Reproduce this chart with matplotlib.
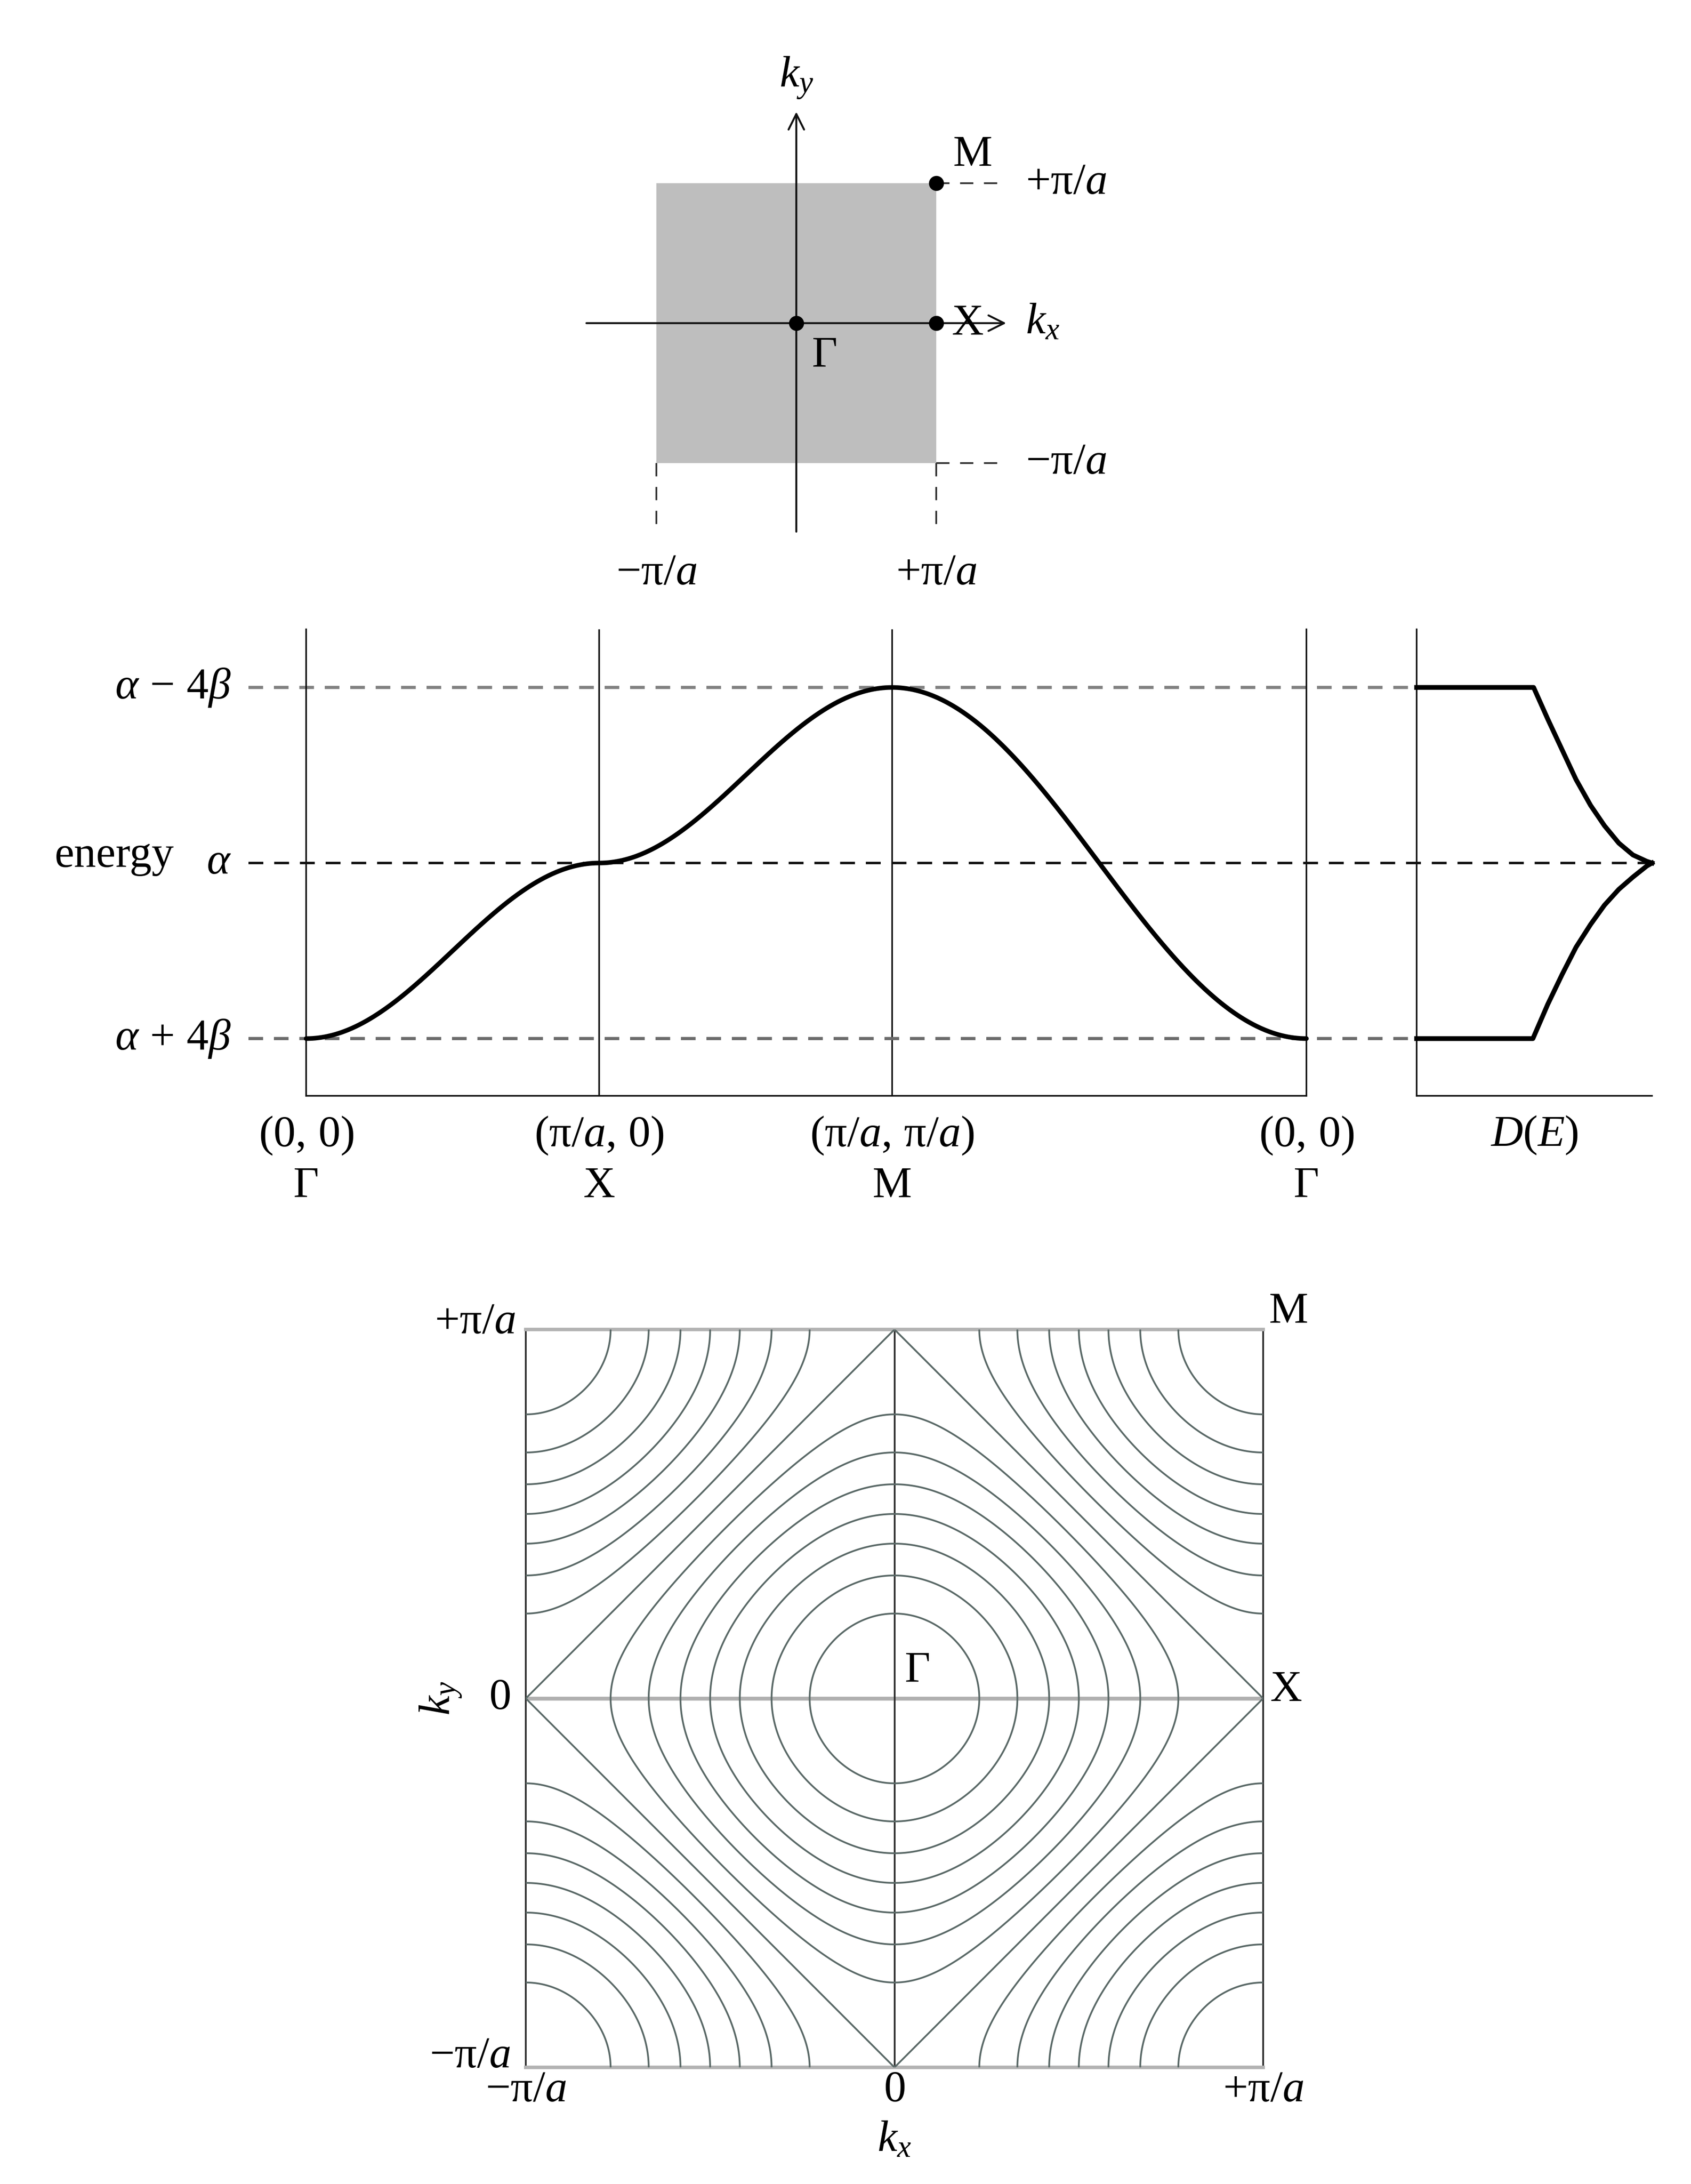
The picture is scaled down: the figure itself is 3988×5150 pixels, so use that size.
import numpy as np
import matplotlib
matplotlib.use("Agg")
import matplotlib.pyplot as plt

# ---------------- data ----------------
# tight-binding parameters (energy axis in units where alpha = 0, beta = -1/2)
alpha = 0.0
beta = -0.5

# high-symmetry path Gamma -> X -> M -> Gamma (k in units of pi/a)
path_names = ["Γ", "X", "M", "Γ"]
path_coord_labels = [r"$(0,\,0)$", r"$(\mathrm{\pi}/a,\,0)$",
                     r"$(\mathrm{\pi}/a,\,\mathrm{\pi}/a)$", r"$(0,\,0)$"]
path_kx = [0.0, 1.0, 1.0, 0.0]
path_ky = [0.0, 0.0, 1.0, 0.0]

# energy reference levels and labels
level_values = [alpha - 4 * beta, alpha, alpha + 4 * beta]
level_labels = [r"$\alpha\,-\,4\beta$", r"$\alpha$", r"$\alpha\,+\,4\beta$"]

# schematic density of states
dos_E_upper = [2.00, 2.00, 1.64, 1.29, 0.952, 0.657, 0.425, 0.227, 0.092, 0.019, 0.0]
dos_D_upper = [0.00, 0.497, 0.557, 0.618, 0.677, 0.739, 0.798, 0.859, 0.919, 0.978, 1.0]
dos_E_lower = [-2.00, -2.00, -1.61, -1.27, -0.96, -0.70, -0.48, -0.30, -0.16, -0.034, 0.0]
dos_D_lower = [0.00, 0.494, 0.557, 0.618, 0.677, 0.739, 0.798, 0.859, 0.919, 0.978, 1.0]

# constant-energy contour levels (cos kx a + cos ky a)
contour_levels = [-1.75, -1.5, -1.25, -1.0, -0.75, -0.5, -0.25, 0.0,
                  0.25, 0.5, 0.75, 1.0, 1.25, 1.5, 1.75]

# Brillouin-zone special points (units of pi/a)
bz_points_x = [0.0, 1.0, 1.0]
bz_points_y = [0.0, 0.0, 1.0]

# ---------------- style ----------------
plt.rcParams["font.family"] = ["Liberation Serif", "DejaVu Serif"]
plt.rcParams["mathtext.fontset"] = "custom"
plt.rcParams["mathtext.rm"] = "Liberation Serif"
plt.rcParams["mathtext.it"] = "Liberation Serif:italic"
plt.rcParams["mathtext.bf"] = "Liberation Serif:bold"

W, H, DPI = 3988, 5150, 300
FS = 25
fig = plt.figure(figsize=(W / DPI, H / DPI), dpi=DPI)
fig.patch.set_facecolor("white")


def px_axes(x0, y0, x1, y1):
    return fig.add_axes([x0 / W, 1 - y1 / H, (x1 - x0) / W, (y1 - y0) / H])


def energy(kx, ky):
    return alpha + 2 * beta * (np.cos(kx * np.pi) + np.cos(ky * np.pi))


# ================= top panel: Brillouin zone =================
ax0 = px_axes(1218, 102, 2868, 1488)
ax0.set_xlim(-2, 3)
ax0.set_ylim(-2.2, 2.0)
ax0.axis("off")
ax0.add_patch(plt.Rectangle((-1, -1), 2, 2, facecolor="#bebebe", edgecolor="none", zorder=1))
arrow_kw = dict(arrowstyle="->", lw=1.1, color="#111111", mutation_scale=22, shrinkA=0, shrinkB=0)
ax0.annotate("", xy=(1.5, 0), xytext=(-1.5, 0), arrowprops=arrow_kw, zorder=3)
ax0.annotate("", xy=(0, 1.51), xytext=(0, -1.49), arrowprops=arrow_kw, zorder=3)
dash_kw = dict(color="#333333", lw=1.0, ls=(0, (7.5, 6)), zorder=2)
ax0.plot([1, 1.44], [1, 1], **dash_kw)
ax0.plot([1, 1.44], [-1, -1], **dash_kw)
ax0.plot([-1, -1], [-1, -1.44], **dash_kw)
ax0.plot([1, 1], [-1, -1.44], **dash_kw)
ax0.plot(bz_points_x, bz_points_y, "o", color="black", ms=7.5, zorder=4, ls="none")
ax0.text(0, 1.75, r"$k_y$", ha="center", va="center", fontsize=FS)
ax0.text(1.64, 0, r"$k_x$", ha="left", va="center", fontsize=FS)
ax0.text(1.26, 1.20, "M", ha="center", va="center", fontsize=FS)
ax0.text(1.224, -0.006, "X", ha="center", va="center", fontsize=FS, zorder=5)
ax0.text(0.203, -0.236, "Γ", ha="center", va="center", fontsize=FS)
ax0.text(1.64, 1.0, r"$+\mathrm{\pi}/a$", ha="left", va="center", fontsize=FS)
ax0.text(1.64, -1.0, r"$-\mathrm{\pi}/a$", ha="left", va="center", fontsize=FS)
ax0.text(-1.0, -1.79, r"$-\mathrm{\pi}/a$", ha="center", va="center", fontsize=FS)
ax0.text(1.0, -1.79, r"$+\mathrm{\pi}/a$", ha="center", va="center", fontsize=FS)

# ================= middle panel: band structure =================
seg_len = [1.0, 1.0, np.sqrt(2.0)]
node_pos = np.concatenate([[0.0], np.cumsum(seg_len)])
s_all, e_all = [], []
for i in range(3):
    t = np.linspace(0, 1, 400)
    kx = path_kx[i] + t * (path_kx[i + 1] - path_kx[i])
    ky = path_ky[i] + t * (path_ky[i + 1] - path_ky[i])
    s_all.append(node_pos[i] + t * seg_len[i])
    e_all.append(energy(kx, ky))
s_all = np.concatenate(s_all)
e_all = np.concatenate(e_all)

ymin, ymax = -2.652, 2.662
ax1 = px_axes(722, 1484, 3081, 2584)
ax1.set_xlim(node_pos[0], node_pos[-1])
ax1.set_ylim(ymin, ymax)
ax1.spines["top"].set_visible(False)
for side in ["left", "bottom", "right"]:
    ax1.spines[side].set_color("#111111")
    ax1.spines[side].set_linewidth(0.9)
ax1.set_xticks([])
ax1.set_yticks([])
ax1.patch.set_alpha(0)
for xp in node_pos[1:-1]:
    ax1.axvline(xp, color="#111111", lw=0.9, zorder=1)

px_per_unit = (3081 - 722) / node_pos[-1]
x_dash_start = (586 - 722) / px_per_unit
x_dos_left = (3341 - 722) / px_per_unit
x_dos_right = (3896 - 722) / px_per_unit
ax1.plot([x_dash_start, x_dos_left], [level_values[0]] * 2, color="#808080", lw=1.8,
         ls=(0, (4.6, 3.4)), clip_on=False, zorder=2)
ax1.plot([x_dash_start, x_dos_right], [level_values[1]] * 2, color="#111111", lw=1.4,
         ls=(0, (6.0, 4.4)), clip_on=False, zorder=2)
ax1.plot([x_dash_start, x_dos_left], [level_values[2]] * 2, color="#6a6a6a", lw=1.8,
         ls=(0, (4.6, 3.4)), clip_on=False, zorder=2)
ax1.plot(s_all, e_all, color="black", lw=2.6, zorder=3, clip_on=False,
         solid_capstyle="round")

x_lab = (545 - 722) / px_per_unit
for val, lab in zip(level_values, level_labels):
    ax1.text(x_lab, val, lab, ha="right", va="center", fontsize=FS)
ax1.text((270 - 722) / px_per_unit, -0.043, "energy", ha="center", va="baseline", fontsize=FS)

tr = ax1.get_xaxis_transform()
for xp, cl, nm in zip(node_pos, path_coord_labels, path_names):
    ax1.text(xp, -0.0855, cl, ha="center", va="center", fontsize=FS, transform=tr)
    ax1.text(xp, -0.1945, nm, ha="center", va="center", fontsize=FS, transform=tr)

# ================= DOS panel =================
ax2 = px_axes(3341, 1484, 3896, 2584)
ax2.set_xlim(0, 1)
ax2.set_ylim(ymin, ymax)
ax2.spines["top"].set_visible(False)
ax2.spines["right"].set_visible(False)
for side in ["left", "bottom"]:
    ax2.spines[side].set_color("#111111")
    ax2.spines[side].set_linewidth(0.9)
ax2.set_xticks([])
ax2.set_yticks([])
ax2.patch.set_alpha(0)
ax2.plot(dos_D_upper, dos_E_upper, color="black", lw=2.7, clip_on=False, zorder=3)
ax2.plot(dos_D_lower, dos_E_lower, color="black", lw=2.7, clip_on=False, zorder=3)
ax2.text(0.5, -0.0845, r"$D(E)$", ha="center", va="center", fontsize=FS,
         transform=ax2.get_xaxis_transform())

# ================= bottom panel: constant-energy contours =================
ax3 = px_axes(1240, 3135, 2979, 4875)
k = np.linspace(-1, 1, 801)
KX, KY = np.meshgrid(k, k)
Z = np.cos(KX * np.pi) + np.cos(KY * np.pi)
ax3.contour(KX * np.pi, KY * np.pi, Z, levels=contour_levels, colors="#5a6967",
            linewidths=1.0, linestyles="solid", zorder=3)
ax3.set_xlim(-np.pi, np.pi)
ax3.set_ylim(-np.pi, np.pi)
ax3.set_xticks([])
ax3.set_yticks([])
for side in ["top", "bottom"]:
    ax3.spines[side].set_color("#b3b3b3")
    ax3.spines[side].set_linewidth(2.0)
for side in ["left", "right"]:
    ax3.spines[side].set_color("#2e2e2e")
    ax3.spines[side].set_linewidth(1.0)
ax3.axhline(0, color="#b0b0b0", lw=2.2, zorder=2)
ax3.axvline(0, color="#2e2e2e", lw=1.0, zorder=2)

ax3.text(1.069 * np.pi, 1.047 * np.pi, "M", ha="center", va="center", fontsize=FS)
ax3.text(1.062 * np.pi, 0.022 * np.pi, "X", ha="center", va="center", fontsize=FS)
ax3.text(0.063 * np.pi, 0.074 * np.pi, "Γ", ha="center", va="center", fontsize=FS)

ytr = ax3.get_yaxis_transform()
ax3.text(-0.014, np.pi * 0.99, r"$+\mathrm{\pi}/a$", ha="right", va="baseline", fontsize=FS, transform=ytr)
ax3.text(-0.021, 0.0, r"$0$", ha="right", va="center", fontsize=FS, transform=ytr)
ax3.text(-0.021, -np.pi, r"$-\mathrm{\pi}/a$", ha="right", va="baseline", fontsize=FS, transform=ytr)
xtr = ax3.get_xaxis_transform()
ax3.text(-np.pi, -0.0316, r"$-\mathrm{\pi}/a$", ha="center", va="center", fontsize=FS, transform=xtr)
ax3.text(0.0, -0.0316, r"$0$", ha="center", va="center", fontsize=FS, transform=xtr)
ax3.text(np.pi, -0.0316, r"$+\mathrm{\pi}/a$", ha="center", va="center", fontsize=FS, transform=xtr)
ax3.text(0.5, (4875 - 5048) / 1740, r"$k_x$", ha="center", va="center", fontsize=FS,
         transform=ax3.transAxes)
ax3.text((1040 - 1240) / 1739, 0.5, r"$k_y$", ha="center", va="center", fontsize=FS,
         rotation=90, transform=ax3.transAxes)

fig.savefig("out.png", dpi=DPI, facecolor="white")
